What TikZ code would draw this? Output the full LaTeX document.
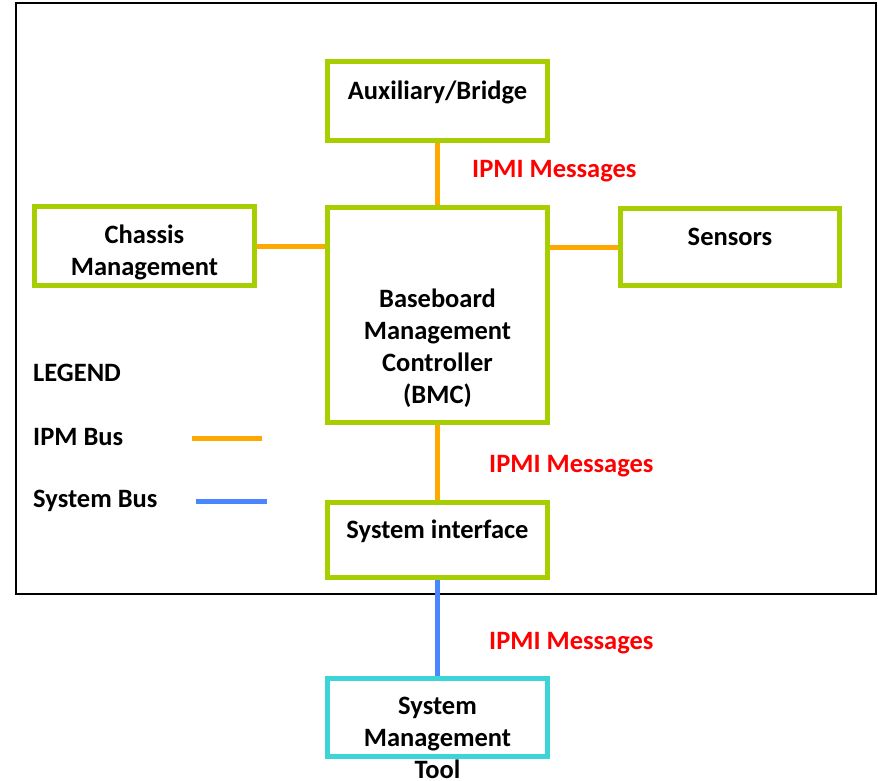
\documentclass[tikz,border=0pt]{standalone}
\usepackage{fontspec}
\setmainfont{Carlito}
\definecolor{boxgreen}{RGB}{166,206,0}
\definecolor{ipmorange}{RGB}{255,168,0}
\definecolor{sysblue}{RGB}{74,134,255}
\definecolor{toolcyan}{RGB}{60,212,214}
\definecolor{msgred}{RGB}{255,0,0}
\begin{document}
\begin{tikzpicture}[x=1pt,y=-1pt,
  box/.style={draw=boxgreen,line width=5pt,minimum width=220pt,inner sep=0pt},
  toolbox/.style={box,draw=toolcyan},
  txt/.style={font=\fontsize{26.5}{32}\selectfont\bfseries,align=center,inner sep=0pt},
  msg/.style={txt,text=msgred,anchor=west},
  ipm/.style={draw=ipmorange,line width=5pt},
  sysbus/.style={draw=sysblue,line width=5pt}]
\useasboundingbox (0,0) rectangle (878,781);
\draw[line width=1.5pt] (16,3) rectangle (876,594);
% boxes
\node[box,minimum height=79pt] (aux) at (437.5,101) {};
\node[box,minimum height=215pt] (bmc) at (437.5,315) {};
\node[box,minimum height=79pt] (chassis) at (144.5,246) {};
\node[box,minimum width=219pt,minimum height=77pt] (sensors) at (730,247) {};
\node[box,minimum height=75pt] (sysif) at (437.5,540) {};
\node[toolbox,minimum height=78pt] (smt) at (437.5,717.5) {};
% texts
\node[txt] (auxt) at (437.5,92) {Auxiliary/Bridge};
\node[txt] (bmct) at (437.5,348) {Baseboard\\Management\\Controller\\(BMC)};
\node[txt] (chassist) at (144.5,252) {Chassis\\Management};
\node[txt] (sensorst) at (730,237) {Sensors};
\node[txt] (sysift) at (437.5,531) {System interface};
\node[txt] (smtt) at (437.5,738) {System\\Management\\Tool};
% connectors
\draw[ipm] (aux.south) -- (bmc.north);
\draw[ipm] (chassis.east) -- (chassis.east -| bmc.west);
\draw[ipm] (bmc.east |- sensors.west) -- (sensors.west);
\draw[ipm] (bmc.south) -- (sysif.north);
\draw[sysbus] (sysif.south) -- (smt.north);
% messages
\node[msg] (m1) at (472,171) {IPMI Messages};
\node[msg] (m2) at (489,466) {IPMI Messages};
\node[msg] (m3) at (489,643) {IPMI Messages};
% legend
\node[txt,anchor=west] (leg) at (33,373) {LEGEND};
\node[txt,anchor=west] (legipm) at (33,437) {IPM Bus};
\node[txt,anchor=west] (legsys) at (33,501) {System Bus};
\coordinate (ipmA) at (192,438);
\coordinate (ipmB) at (262,438);
\coordinate (sysA) at (196,501);
\coordinate (sysB) at (267,501);
\draw[ipm] (ipmA) -- (ipmB);
\draw[sysbus] (sysA) -- (sysB);
\end{tikzpicture}
\end{document}
